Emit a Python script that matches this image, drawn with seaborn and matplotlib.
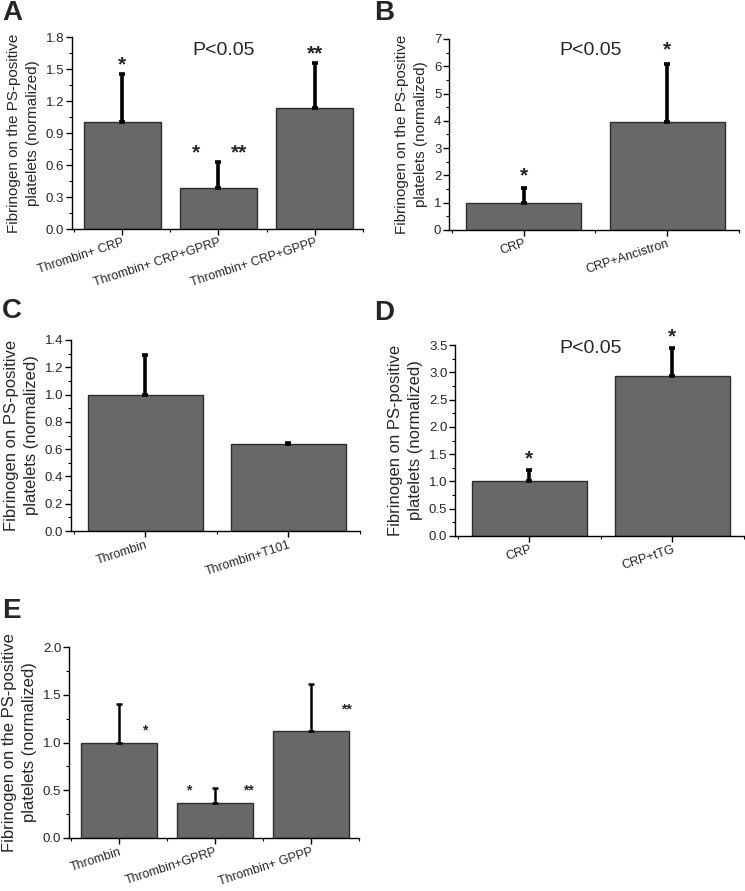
import matplotlib
matplotlib.use("Agg")
import matplotlib.pyplot as plt
from matplotlib.ticker import MultipleLocator, AutoMinorLocator
import pandas as pd
import seaborn as sns

# panel data: means and upper error (SD)
a_groups = ["Thrombin+ CRP", "Thrombin+ CRP+GPRP", "Thrombin+ CRP+GPPP"]
a_means = [1.00, 0.38, 1.13]
a_err = [0.45, 0.25, 0.43]

b_groups = ["CRP", "CRP+Ancistron"]
b_means = [1.00, 3.95]
b_err = [0.55, 2.15]

c_groups = ["Thrombin", "Thrombin+T101"]
c_means = [1.00, 0.635]
c_err = [0.29, 0.01]

d_groups = ["CRP", "CRP+tTG"]
d_means = [1.00, 2.93]
d_err = [0.21, 0.51]

e_groups = ["Thrombin", "Thrombin+GPRP", "Thrombin+ GPPP"]
e_means = [1.00, 0.37, 1.12]
e_err = [0.40, 0.15, 0.49]

LABEL_THE = "Fibrinogen on the PS-positive\nplatelets (normalized)"
LABEL_NO_THE = "Fibrinogen on PS-positive\nplatelets (normalized)"

BAR = "#686868"
EDGE = "#2e2e2e"

sns.set_theme(style="ticks")
plt.rcParams["font.family"] = ["Liberation Sans", "DejaVu Sans"]

W, H = 745, 891
fig = plt.figure(figsize=(W / 100, H / 100), dpi=100)


def px_axes(x0, y0, x1, y1):
    return fig.add_axes([x0 / W, 1 - y1 / H, (x1 - x0) / W, (y1 - y0) / H])


def bar_panel(ax, groups, means, err, ylim, major, ylabel, label_size=11,
              err_lw=2.6, cap=2.2):
    df = pd.DataFrame({"group": groups, "value": means})
    sns.barplot(data=df, x="group", y="value", ax=ax, color=BAR,
                edgecolor=EDGE, linewidth=1.0, width=0.8, saturation=1)
    lower = [0] * len(means)
    ax.errorbar(range(len(means)), means, yerr=[lower, err], fmt="none",
                ecolor="black", elinewidth=err_lw, capsize=cap, capthick=err_lw,
                zorder=3)
    ax.set_ylim(*ylim)
    ax.set_xlim(-0.52, len(groups) - 0.5)
    ax.yaxis.set_major_locator(MultipleLocator(major))
    ax.yaxis.set_minor_locator(AutoMinorLocator(2))
    ax.xaxis.set_minor_locator(MultipleLocator(0.5))
    ax.set_xlabel("")
    ax.set_ylabel(ylabel, fontsize=label_size, linespacing=1.45, labelpad=4)
    ax.tick_params(axis="both", which="major", direction="out", length=4,
                   width=1, labelsize=9.5, pad=1.5, color="black")
    ax.tick_params(axis="both", which="minor", direction="out", length=2,
                   width=0.8, color="black")
    ax.set_xticks(range(len(groups)))
    ax.set_xticklabels(groups, rotation=18, ha="right", rotation_mode="anchor",
                       fontsize=9)
    for s in ["top", "right"]:
        ax.spines[s].set_visible(False)
    for s in ["left", "bottom"]:
        ax.spines[s].set_color("black")
        ax.spines[s].set_linewidth(1.0)
    return ax


def star(ax, x, y, s, size=15):
    ax.text(x, y, s, ha="center", va="center", fontsize=size,
            fontweight="bold", clip_on=False)


def plabel(ax, x, y):
    ax.text(x, y, "P<0.05", transform=ax.transAxes, ha="center",
            va="center", fontsize=14)


# A
axA = px_axes(72, 37, 363, 229)
bar_panel(axA, a_groups, a_means, a_err, (0, 1.8), 0.3, LABEL_THE)
axA.yaxis.set_major_formatter(plt.FormatStrFormatter("%.1f"))
plabel(axA, 0.52, 0.93)
star(axA, 0, 1.54, "*")
star(axA, 0.77, 0.71, "*")
star(axA, 1.21, 0.71, "**")
star(axA, 2.0, 1.64, "**")

# B
axB = px_axes(449, 39, 739, 230)
bar_panel(axB, b_groups, b_means, b_err, (0, 7), 1, LABEL_THE)
plabel(axB, 0.49, 0.94)
star(axB, 0, 2.0, "*")
star(axB, 1, 6.6, "*")

# C
axC = px_axes(71, 340, 360, 531)
bar_panel(axC, c_groups, c_means, c_err, (0, 1.4), 0.2, LABEL_NO_THE,
          label_size=12)
axC.yaxis.set_major_formatter(plt.FormatStrFormatter("%.1f"))

# D
axD = px_axes(455, 345, 744, 536)
bar_panel(axD, d_groups, d_means, d_err, (0, 3.5), 0.5, LABEL_NO_THE,
          label_size=12)
axD.yaxis.set_major_formatter(plt.FormatStrFormatter("%.1f"))
plabel(axD, 0.47, 0.98)
star(axD, 0, 1.42, "*")
star(axD, 1, 3.64, "*")

# E
axE = px_axes(69, 647, 359, 838)
bar_panel(axE, e_groups, e_means, e_err, (0, 2.0), 0.5, LABEL_THE,
          label_size=12, err_lw=1.8, cap=2.5)
axE.yaxis.set_major_formatter(plt.FormatStrFormatter("%.1f"))
star(axE, 0.27, 1.13, "*", size=10)
star(axE, 0.73, 0.50, "*", size=10)
star(axE, 1.35, 0.50, "**", size=10)
star(axE, 2.37, 1.35, "**", size=10)

# panel letters
for txt, x, y in [("A", 2, 0), ("B", 374, 0), ("C", 2, 298), ("D", 374, 300),
                  ("E", 2, 598)]:
    fig.text(x / W, 1 - y / H, txt, ha="left", va="top", fontsize=20,
             fontweight="bold")

fig.savefig("out.png", dpi=100)
